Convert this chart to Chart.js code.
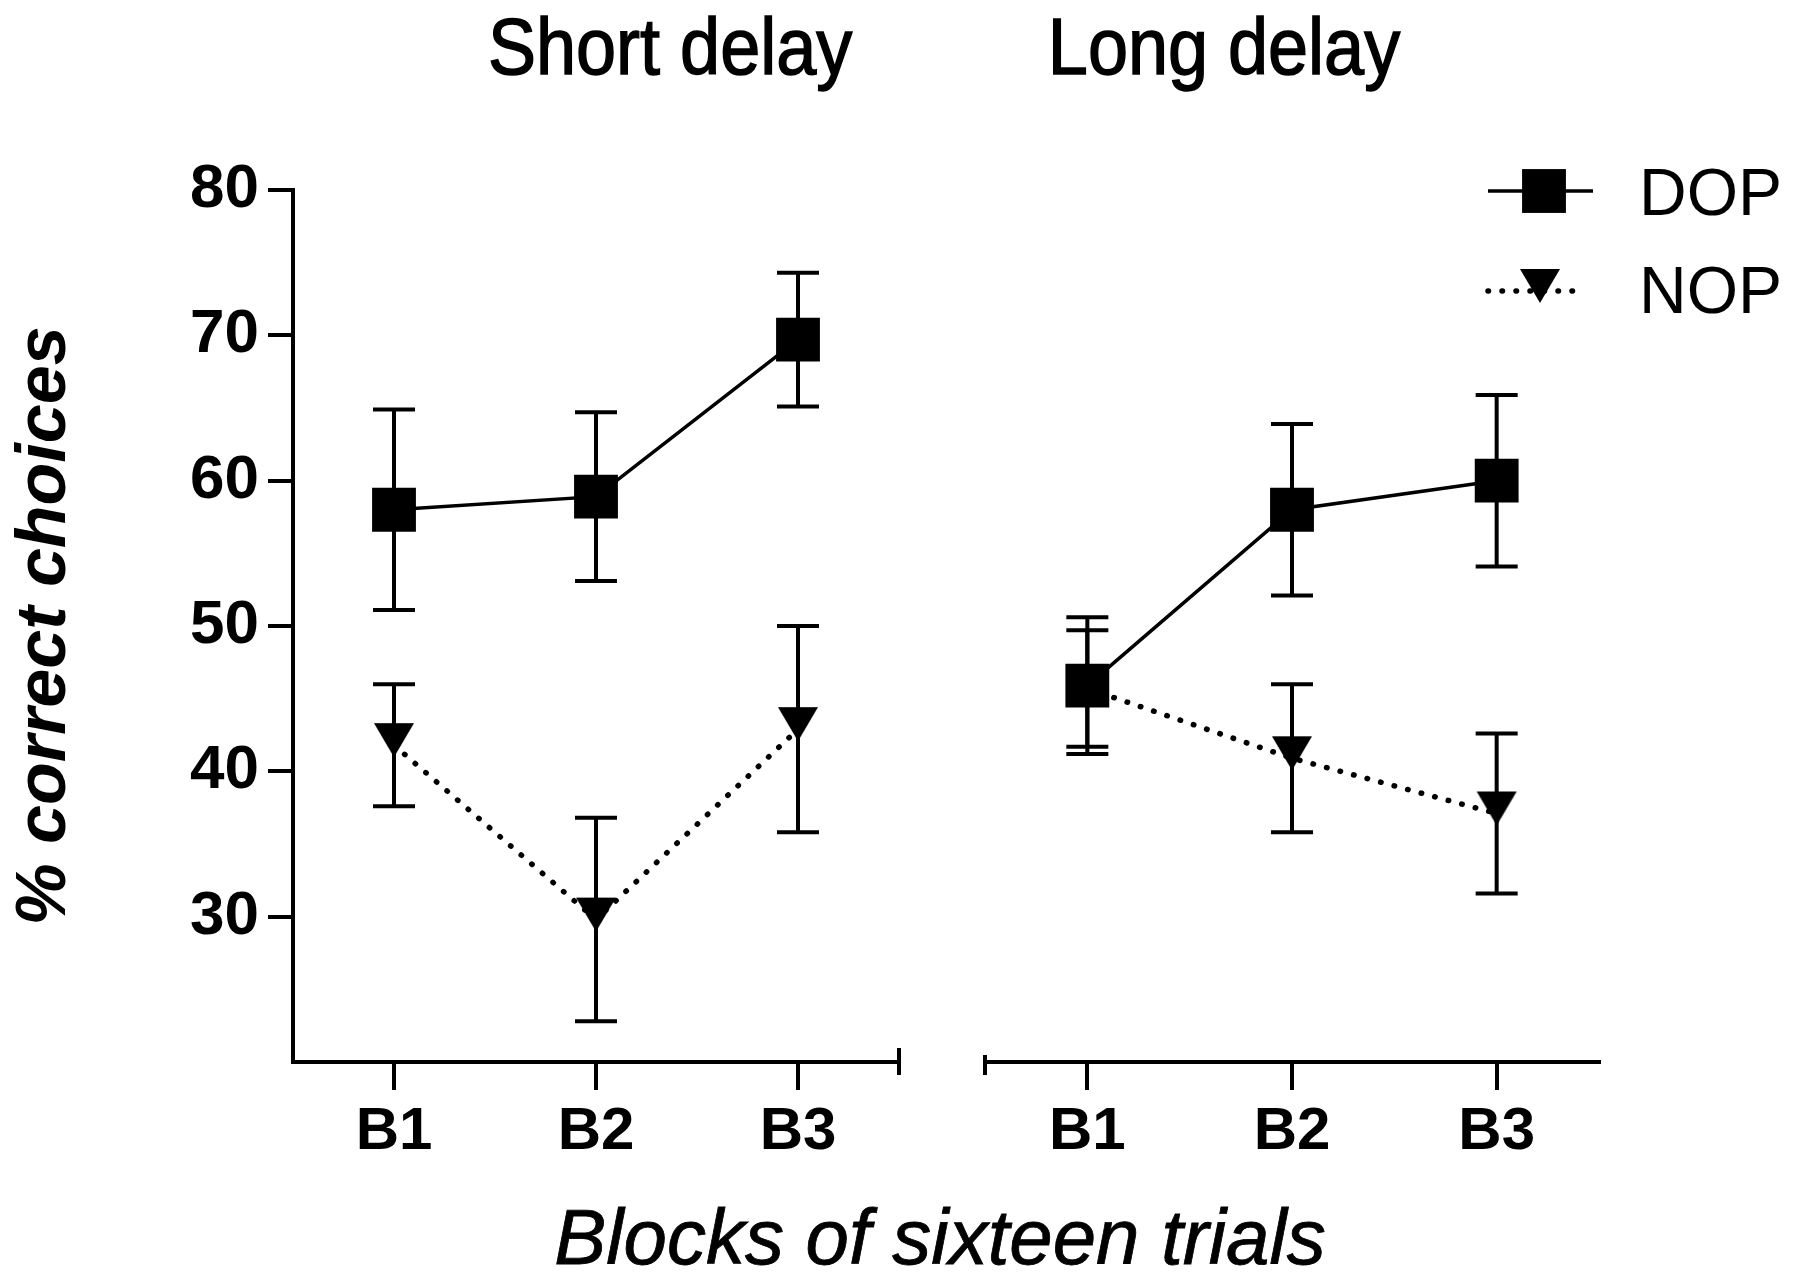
<!DOCTYPE html>
<html>
<head>
<meta charset="utf-8">
<script src="https://cdn.jsdelivr.net/npm/chart.js@4.4.1/dist/chart.umd.min.js"></script>
<style>
  html, body { margin: 0; padding: 0; background: #fff; }
  #wrap { position: relative; width: 1810px; height: 1282px; overflow: hidden; background: #fff;
          font-family: "Liberation Sans", Arial, sans-serif; color: #000; }
  .panel { position: absolute; top: 0; }
  .txt { position: absolute; white-space: nowrap; line-height: 1; text-align: center; }
  .title { font-size: 80px; -webkit-text-stroke: 1.5px #000; transform: scaleX(0.9); }
  #xTitle { font-size: 78px; font-style: italic; -webkit-text-stroke: 0.8px #000; }
</style>
</head>
<body>
<div id="wrap">
  <canvas id="shortChart" class="panel" style="left:0" width="930" height="1282"></canvas>
  <canvas id="longChart" class="panel" style="left:930px" width="880" height="1282"></canvas>
  <div class="txt title" style="left:468px;top:7px;width:400px">Short delay</div>
  <div class="txt title" style="left:1024px;top:7px;width:400px">Long delay</div>
  <div class="txt" id="xTitle" style="left:440px;top:1198px;width:1000px">Blocks of sixteen trials</div>
</div>
<script>
// values
const blocks = ["B1", "B2", "B3"]
const yTicks = [30, 40, 50, 60, 70, 80]

const shortDOP = [58.0, 58.9, 69.7]
const shortDOPsem = [6.9, 5.8, 4.6]
const shortNOP = [41.8, 29.8, 42.9]
const shortNOPsem = [4.2, 7.0, 7.1]

const longDOP = [45.9, 58.0, 60.0]
const longDOPsem = [4.7, 5.9, 5.9]
const longNOP = [45.7, 40.9, 37.1]
const longNOPsem = [4.0, 5.1, 5.5]

const FONT = '"Liberation Sans", Arial, sans-serif'

// down-pointing triangle, sitting a bit above its data point like the original
function makeTriangle() {
  const c = document.createElement("canvas")
  c.width = 42
  c.height = 46
  const g = c.getContext("2d")
  g.fillStyle = "#000"
  g.beginPath()
  g.moveTo(1, 1)
  g.lineTo(41, 1)
  g.lineTo(21, 35)
  g.closePath()
  g.fill()
  return c
}
const triangle = makeTriangle()

function makeDatasets(dop, dopErr, nop, nopErr) {
  return [
    {
      label: "DOP",
      data: dop,
      errors: dopErr,
      borderColor: "#000",
      borderWidth: 3.5,
      pointStyle: "rect",
      pointRadius: 31,
      pointBackgroundColor: "#000",
      pointBorderWidth: 0,
      tension: 0
    },
    {
      label: "NOP",
      data: nop,
      errors: nopErr,
      borderColor: "#000",
      borderWidth: 5.5,
      borderDash: [0.5, 13.5],
      borderCapStyle: "round",
      pointStyle: triangle,
      pointRadius: 22,
      pointBackgroundColor: "#000",
      pointBorderWidth: 0,
      tension: 0
    }
  ]
}

// error bars (mean +/- sem) with caps
const errorBars = {
  id: "errorBars",
  afterDatasetsDraw(chart) {
    const ctx = chart.ctx
    const y = chart.scales.y
    ctx.save()
    ctx.strokeStyle = "#000"
    ctx.lineWidth = 4
    chart.data.datasets.forEach((ds, i) => {
      chart.getDatasetMeta(i).data.forEach((pt, j) => {
        const top = y.getPixelForValue(ds.data[j] + ds.errors[j])
        const bot = y.getPixelForValue(ds.data[j] - ds.errors[j])
        ctx.beginPath()
        ctx.moveTo(pt.x, top); ctx.lineTo(pt.x, bot)
        ctx.moveTo(pt.x - 21, top); ctx.lineTo(pt.x + 21, top)
        ctx.moveTo(pt.x - 21, bot); ctx.lineTo(pt.x + 21, bot)
        ctx.stroke()
      })
    })
    ctx.restore()
  }
}

// little end tick on the broken x axis
const axisEnd = {
  id: "axisEnd",
  afterDraw(chart, args, opts) {
    const ctx = chart.ctx
    const a = chart.chartArea
    const x = opts.side === "right" ? a.right : a.left
    ctx.save()
    ctx.strokeStyle = "#000"
    ctx.lineWidth = 4
    ctx.beginPath()
    ctx.moveTo(x, a.bottom - opts.up)
    ctx.lineTo(x, a.bottom + opts.down)
    ctx.stroke()
    ctx.restore()
  }
}

// legend: line sample with marker, then label
const sideLegend = {
  id: "sideLegend",
  afterDraw(chart, args, opts) {
    const ctx = chart.ctx
    chart.data.datasets.forEach((ds, i) => {
      const row = opts.rows[i]
      ctx.save()
      ctx.strokeStyle = "#000"
      ctx.lineWidth = ds.borderWidth
      ctx.lineCap = ds.borderCapStyle || "butt"
      ctx.setLineDash(ds.borderDash || [])
      ctx.beginPath()
      ctx.moveTo(opts.x0, row.y)
      ctx.lineTo(ds.borderDash ? opts.x1 - 10 : opts.x1, row.y)
      ctx.stroke()
      ctx.setLineDash([])
      ctx.fillStyle = "#000"
      if (ds.pointStyle === "rect") {
        const s = ds.pointRadius * Math.SQRT1_2
        ctx.fillRect(opts.mx - s, row.y - s, 2 * s, 2 * s)
      } else {
        ctx.drawImage(ds.pointStyle, opts.mx - 4 - ds.pointStyle.width / 2, row.y - ds.pointStyle.height / 2)
      }
      ctx.font = "66px " + FONT
      ctx.textBaseline = "alphabetic"
      ctx.fillText(ds.label, opts.textX, row.base)
      ctx.restore()
    })
  }
}

const xScale = {
  type: "category",
  offset: true,
  grid: { offset: false, drawOnChartArea: false, drawTicks: true, tickLength: 28, color: "#000", lineWidth: 4 },
  border: { display: true, color: "#000", width: 4 },
  ticks: { color: "#000", padding: 6, font: { family: FONT, size: 60, weight: "bold" } },
  afterFit: s => { s.height = 220 }
}

const yBase = {
  min: 20,
  max: 80,
  afterBuildTicks: s => { s.ticks = yTicks.map(v => ({ value: v })) }
}

let shortChart = new Chart(document.getElementById("shortChart"), {
  type: "line",
  data: { labels: blocks, datasets: makeDatasets(shortDOP, shortDOPsem, shortNOP, shortNOPsem) },
  options: {
    responsive: false,
    animation: false,
    events: [],
    layout: { padding: { top: 190, right: 22, bottom: 0, left: 0 } },
    scales: {
      x: xScale,
      y: {
        ...yBase,
        grid: { drawOnChartArea: false, drawTicks: true, tickLength: 25, color: "#000", lineWidth: 4 },
        border: { display: true, color: "#000", width: 4 },
        ticks: { color: "#000", padding: 9, font: { family: FONT, size: 62, weight: "bold" } },
        title: {
          display: true,
          text: "% correct choices",
          color: "#000",
          padding: { top: 4, bottom: 0 },
          font: { family: FONT, size: 70, weight: "bold", style: "italic" }
        },
        afterFit: s => { s.width = 293 }
      }
    },
    plugins: {
      legend: { display: false },
      tooltip: { enabled: false },
      axisEnd: { side: "right", up: 14, down: 13 }
    }
  },
  plugins: [errorBars, axisEnd]
})

let longChart = new Chart(document.getElementById("longChart"), {
  type: "line",
  data: { labels: blocks, datasets: makeDatasets(longDOP, longDOPsem, longNOP, longNOPsem) },
  options: {
    responsive: false,
    animation: false,
    events: [],
    layout: { padding: { top: 190, right: 211, bottom: 0, left: 55 } },
    scales: {
      x: xScale,
      y: { ...yBase, display: false }
    },
    plugins: {
      legend: { display: false },
      tooltip: { enabled: false },
      axisEnd: { side: "left", up: 7, down: 13 },
      sideLegend: {
        x0: 558, x1: 663, mx: 614, textX: 709,
        rows: [ { y: 191, base: 215 }, { y: 291, base: 313 } ]
      }
    }
  },
  plugins: [errorBars, axisEnd, sideLegend]
})
</script>
</body>
</html>
